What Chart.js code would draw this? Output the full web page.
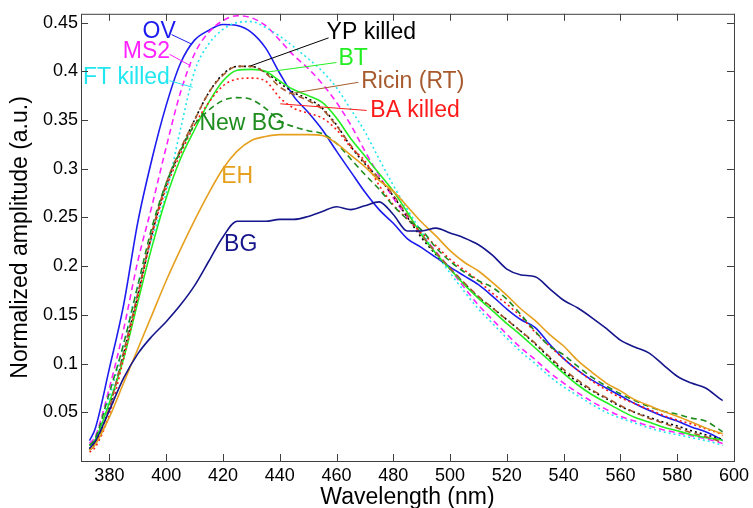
<!DOCTYPE html>
<html>
<head>
<meta charset="utf-8">
<script src="https://cdn.jsdelivr.net/npm/chart.js@4.4.1/dist/chart.umd.min.js"></script>
<style>
  html, body { margin: 0; padding: 0; background: #fff; }
  #wrap { width: 753px; height: 508px; }
</style>
</head>
<body>
<div id="wrap"><canvas id="spectra"></canvas></div>
<script>
// wavelength samples (nm)
const wl = [373, 375, 380, 385, 390, 395, 400, 405, 410, 415, 420, 425, 430, 435, 440, 445, 450, 455, 460, 465,
            470, 475, 480, 485, 490, 495, 500, 505, 510, 515, 520, 525, 530, 535, 540, 545, 550, 555, 560, 565,
            570, 575, 580, 585, 590, 595, 596];

// normalized amplitudes
const ov = [0.021, 0.033, 0.095, 0.16, 0.245, 0.31, 0.365, 0.408, 0.432, 0.442, 0.448, 0.447, 0.440, 0.424, 0.398, 0.374, 0.358, 0.340, 0.318, 0.297,
            0.276, 0.258, 0.244, 0.228, 0.219, 0.209, 0.199, 0.19, 0.181, 0.169, 0.156, 0.145, 0.137, 0.12, 0.105, 0.093, 0.083, 0.075, 0.067, 0.059,
            0.052, 0.046, 0.041, 0.035, 0.03, 0.023, 0.021];
const ms2 = [0.018, 0.025, 0.075, 0.135, 0.205, 0.262, 0.322, 0.378, 0.418, 0.44, 0.452, 0.457, 0.455, 0.447, 0.432, 0.416, 0.403, 0.387, 0.368, 0.345,
             0.318, 0.293, 0.27, 0.25, 0.232, 0.215, 0.197, 0.178, 0.16, 0.145, 0.13, 0.116, 0.104, 0.091, 0.08, 0.07, 0.061, 0.053, 0.046, 0.041,
             0.036, 0.032, 0.029, 0.026, 0.023, 0.019, 0.018];
const ftKilled = [0.016, 0.022, 0.065, 0.12, 0.18, 0.228, 0.275, 0.34, 0.4, 0.428, 0.443, 0.45, 0.451, 0.445, 0.436, 0.425, 0.413, 0.4, 0.383, 0.361,
                  0.338, 0.31, 0.283, 0.258, 0.235, 0.213, 0.193, 0.174, 0.156, 0.141, 0.126, 0.112, 0.1, 0.087, 0.076, 0.067, 0.058, 0.05, 0.044, 0.039,
                  0.034, 0.03, 0.027, 0.024, 0.021, 0.017, 0.016];
const ypKilled = [0.012, 0.018, 0.055, 0.11, 0.17, 0.233, 0.283, 0.318, 0.35, 0.378, 0.397, 0.405, 0.405, 0.399, 0.388, 0.378, 0.372, 0.362, 0.345, 0.323,
                  0.305, 0.29, 0.272, 0.25, 0.229, 0.212, 0.197, 0.182, 0.168, 0.157, 0.145, 0.133, 0.12, 0.106, 0.092, 0.081, 0.072, 0.064, 0.056, 0.05,
                  0.045, 0.04, 0.036, 0.031, 0.027, 0.023, 0.022];
const bt = [0.016, 0.022, 0.06, 0.105, 0.163, 0.22, 0.27, 0.31, 0.34, 0.368, 0.39, 0.401, 0.402, 0.4, 0.39, 0.381, 0.375, 0.368, 0.352, 0.331,
            0.313, 0.295, 0.277, 0.255, 0.232, 0.213, 0.197, 0.181, 0.167, 0.154, 0.141, 0.129, 0.116, 0.103, 0.09, 0.078, 0.068, 0.06, 0.052, 0.045,
            0.04, 0.035, 0.031, 0.027, 0.024, 0.022, 0.021];
const ricin = [0.011, 0.017, 0.055, 0.112, 0.172, 0.235, 0.285, 0.32, 0.35, 0.378, 0.396, 0.405, 0.405, 0.398, 0.384, 0.376, 0.37, 0.361, 0.344, 0.324,
               0.306, 0.29, 0.273, 0.252, 0.232, 0.214, 0.198, 0.183, 0.169, 0.157, 0.145, 0.133, 0.121, 0.107, 0.094, 0.083, 0.073, 0.065, 0.057, 0.05,
               0.044, 0.039, 0.034, 0.029, 0.025, 0.02, 0.019];
const baKilled = [0.009, 0.014, 0.048, 0.105, 0.168, 0.232, 0.28, 0.315, 0.345, 0.368, 0.385, 0.392, 0.393, 0.39, 0.373, 0.362, 0.357, 0.352, 0.34, 0.322,
                  0.308, 0.283, 0.263, 0.248, 0.234, 0.221, 0.207, 0.196, 0.185, 0.172, 0.161, 0.148, 0.132, 0.118, 0.105, 0.093, 0.082, 0.073, 0.065, 0.059,
                  0.053, 0.047, 0.042, 0.038, 0.033, 0.028, 0.026];
const newBg = [0.016, 0.023, 0.07, 0.12, 0.18, 0.24, 0.285, 0.318, 0.345, 0.36, 0.37, 0.373, 0.371, 0.362, 0.349, 0.343, 0.339, 0.336, 0.326, 0.31,
               0.294, 0.279, 0.262, 0.248, 0.237, 0.219, 0.205, 0.194, 0.185, 0.178, 0.166, 0.15, 0.133, 0.118, 0.109, 0.097, 0.086, 0.077, 0.069, 0.062,
               0.056, 0.051, 0.048, 0.044, 0.041, 0.032, 0.03];
const eh = [0.011, 0.017, 0.045, 0.08, 0.115, 0.15, 0.185, 0.217, 0.247, 0.275, 0.3, 0.318, 0.329, 0.333, 0.335, 0.335, 0.335, 0.334, 0.326, 0.314,
            0.302, 0.288, 0.277, 0.261, 0.245, 0.231, 0.216, 0.204, 0.195, 0.183, 0.17, 0.156, 0.144, 0.13, 0.118, 0.103, 0.091, 0.08, 0.072, 0.063,
            0.057, 0.051, 0.046, 0.04, 0.034, 0.029, 0.028];
const bg = [0.013, 0.02, 0.052, 0.085, 0.11, 0.128, 0.143, 0.16, 0.18, 0.205, 0.23, 0.246, 0.246, 0.246, 0.248, 0.248, 0.251, 0.256, 0.261, 0.258,
            0.262, 0.266, 0.253, 0.236, 0.236, 0.239, 0.234, 0.229, 0.222, 0.211, 0.197, 0.191, 0.189, 0.177, 0.165, 0.157, 0.147, 0.136, 0.124, 0.117,
            0.111, 0.099, 0.087, 0.08, 0.075, 0.064, 0.062];

const xTicks = [380, 400, 420, 440, 460, 480, 500, 520, 540, 560, 580, 600];
const yTicks = [0.05, 0.1, 0.15, 0.2, 0.25, 0.3, 0.35, 0.4, 0.45];

// series: name, values, colour, dash
const series = [
    ['BG', bg, '#15158c', []],
    ['EH', eh, '#e6a01e', []],
    ['New BG', newBg, '#1e8c1e', [6, 4]],
    ['BA killed', baKilled, '#ff1a1a', [2, 3]],
    ['Ricin (RT)', ricin, '#a65a2d', [6, 4]],
    ['BT', bt, '#22ee22', []],
    ['YP killed', ypKilled, '#000000', [2, 3]],
    ['FT killed', ftKilled, '#22e6f0', [2, 3]],
    ['MS2', ms2, '#ff22ff', [6, 4]],
    ['OV', ov, '#1c1cf0', []]
];

// in-plot labels: text, colour, text anchor (nm, value), optional leader line
const labels = [
    { text: 'OV', color: '#1c1cf0', at: [391.7, 0.441], line: [[401.9, 0.4377], [408.7, 0.4283]] },
    { text: 'MS2', color: '#ff22ff', at: [384.7, 0.420], line: [[401.2, 0.4174], [408.7, 0.4055]] },
    { text: 'FT killed', color: '#22e6f0', at: [370.7, 0.393], line: [[401.2, 0.3903], [409.3, 0.3836]] },
    { text: 'YP killed', color: '#000000', at: [456.5, 0.4397], line: [[457.2, 0.4343], [429.7, 0.4055]] },
    { text: 'BT', color: '#22ee22', at: [460.7, 0.4133], line: [[460.0, 0.409], [435.0, 0.399]] },
    { text: 'Ricin (RT)', color: '#a65a2d', at: [468.7, 0.389], line: [[467.7, 0.3887], [443.2, 0.3768]] },
    { text: 'BA killed', color: '#ff1a1a', at: [471.9, 0.3595], line: [[470.6, 0.3598], [440.2, 0.3666]] },
    { text: 'New BG', color: '#1e8c1e', at: [411.7, 0.3458] },
    { text: 'EH', color: '#e6a01e', at: [419.4, 0.2915] },
    { text: 'BG', color: '#15158c', at: [420.4, 0.2219] }
];

const datasets = series.map(([name, vals, color, dash]) => ({
    label: name,
    data: wl.map((w, i) => ({ x: w, y: vals[i] })),
    borderColor: color,
    borderWidth: 1.6,
    borderDash: dash,
    pointRadius: 0,
    fill: false,
    cubicInterpolationMode: 'monotone'
}));

// box round the plot with inward ticks, MATLAB style
const framePlugin = {
    id: 'frame',
    afterDraw(chart) {
        const { ctx, chartArea: a, scales } = chart;
        ctx.save();
        ctx.strokeStyle = '#404040';
        ctx.lineWidth = 1;
        ctx.strokeRect(a.left + 0.5, a.top + 0.5, a.right - a.left, a.bottom - a.top);
        ctx.beginPath();
        xTicks.forEach(t => {
            const px = Math.round(scales.x.getPixelForValue(t)) + 0.5;
            ctx.moveTo(px, a.bottom); ctx.lineTo(px, a.bottom - 7);
            ctx.moveTo(px, a.top); ctx.lineTo(px, a.top + 7);
        });
        yTicks.forEach(t => {
            const py = Math.round(scales.y.getPixelForValue(t)) + 0.5;
            ctx.moveTo(a.left, py); ctx.lineTo(a.left + 7, py);
            ctx.moveTo(a.right, py); ctx.lineTo(a.right - 7, py);
        });
        ctx.stroke();
        ctx.restore();
    }
};

const labelPlugin = {
    id: 'curveLabels',
    afterDatasetsDraw(chart) {
        const { ctx, scales } = chart;
        ctx.save();
        ctx.font = '23px "Liberation Sans", Arial, sans-serif';
        ctx.textBaseline = 'middle';
        ctx.textAlign = 'left';
        labels.forEach(l => {
            if (l.line) {
                ctx.beginPath();
                ctx.strokeStyle = l.color;
                ctx.lineWidth = 1;
                ctx.moveTo(scales.x.getPixelForValue(l.line[0][0]), scales.y.getPixelForValue(l.line[0][1]));
                ctx.lineTo(scales.x.getPixelForValue(l.line[1][0]), scales.y.getPixelForValue(l.line[1][1]));
                ctx.stroke();
            }
            ctx.fillStyle = l.color;
            ctx.fillText(l.text, scales.x.getPixelForValue(l.at[0]), scales.y.getPixelForValue(l.at[1]));
        });
        ctx.restore();
    }
};

new Chart(document.getElementById('spectra'), {
    type: 'line',
    data: { datasets: datasets },
    options: {
        responsive: true,
        maintainAspectRatio: false,
        animation: false,
        layout: { padding: { top: 9, right: 15, left: 0, bottom: 0 } },
        plugins: {
            legend: { display: false },
            tooltip: { enabled: false }
        },
        scales: {
            x: {
                type: 'linear',
                min: 370,
                max: 600,
                grid: { display: false, drawTicks: false },
                border: { display: false },
                afterBuildTicks: s => { s.ticks = xTicks.map(v => ({ value: v })); },
                afterFit: s => { s.height = 47; },
                ticks: {
                    color: '#000',
                    padding: 4,
                    maxRotation: 0,
                    font: { family: '"Liberation Sans", Arial, sans-serif', size: 18 }
                },
                title: {
                    display: true,
                    text: 'Wavelength (nm)',
                    color: '#000',
                    padding: { top: 0, bottom: -3 },
                    font: { family: '"Liberation Sans", Arial, sans-serif', size: 23 }
                }
            },
            y: {
                min: 0,
                max: 0.459,
                grid: { display: false, drawTicks: false },
                border: { display: false },
                afterBuildTicks: s => { s.ticks = yTicks.map(v => ({ value: v })); },
                afterFit: s => { s.width = 81; },
                ticks: {
                    color: '#000',
                    padding: 3,
                    callback: v => String(+v.toFixed(2)),
                    font: { family: '"Liberation Sans", Arial, sans-serif', size: 18 }
                },
                title: {
                    display: true,
                    text: 'Normalized amplitude (a.u.)',
                    color: '#000',
                    padding: { top: 7, bottom: 0 },
                    font: { family: '"Liberation Sans", Arial, sans-serif', size: 23 }
                }
            }
        }
    },
    plugins: [framePlugin, labelPlugin]
});
</script>
</body>
</html>
